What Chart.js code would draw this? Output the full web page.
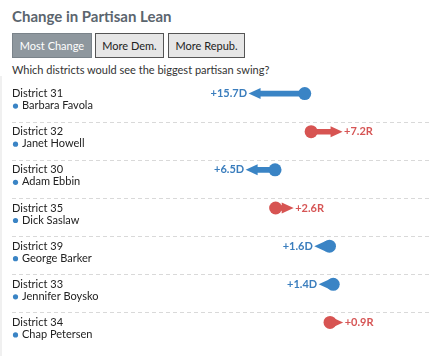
<!DOCTYPE html>
<html>
<head>
<meta charset="utf-8">
<script src="https://cdn.jsdelivr.net/npm/chart.js@4/dist/chart.umd.min.js"></script>
<style>
  html, body { margin:0; padding:0; background:#fff; }
  body { width:431px; height:356px; position:relative; overflow:hidden; font-family:Lato, "Open Sans", sans-serif; }
  #title { position:absolute; left:12px; top:7px; font-weight:bold; font-size:15px; color:#5b656e; white-space:nowrap; }
  .btn { position:absolute; top:33px; height:25px; box-sizing:border-box; border:1px solid #555; font-size:11px; line-height:23px; text-align:center; color:#222; background:#e6e6e6; }
  #b1 { left:12px; width:80px; background:#8e979e; color:#fff; border-color:#7a838a; }
  #b2 { left:95px; width:69px; }
  #b3 { left:168px; width:77px; }
  #sub { position:absolute; left:12px; top:63px; font-size:11px; color:#333; white-space:nowrap; }
  #leftline { position:absolute; left:0; top:76px; width:2px; height:280px; background:#f0f0f0; }
  #wrap { position:absolute; left:0; top:68px; width:431px; height:280px; }
</style>
</head>
<body>
<div id="title">Change in Partisan Lean</div>
<div class="btn" id="b1">Most Change</div>
<div class="btn" id="b2">More Dem.</div>
<div class="btn" id="b3">More Repub.</div>
<div id="sub">Which districts would see the biggest partisan swing?</div>
<div id="leftline"></div>
<div id="wrap"><canvas id="c" width="431" height="280"></canvas></div>
<script>
// ---- data (lean in points: negative = Dem side, positive = Rep side) ----
const districts = ["District 31", "District 32", "District 30", "District 35", "District 39", "District 33", "District 34"];
const senators  = ["Barbara Favola", "Janet Howell", "Adam Ebbin", "Dick Saslaw", "George Barker", "Jennifer Boysko", "Chap Petersen"];
const leanBefore = [2.5, 4.7, -7.7, -7.5, 11.0, 12.3, 11.2];
const leanAfter  = [-13.2, 11.9, -14.2, -4.9, 9.4, 10.9, 12.1];
const shiftLabels = ["+15.7D", "+7.2R", "+6.5D", "+2.6R", "+1.6D", "+1.4D", "+0.9R"];

const BLUE = "#3a84c5", RED = "#d75452";
const BLUE_TXT = "#3a7dbd", RED_TXT = "#d65555";
const colorFor = i => leanAfter[i] < leanBefore[i] ? BLUE : RED;
const colors = districts.map((d, i) => colorFor(i));

const decor = {
  id: "decor",
  beforeDatasetsDraw(chart) {
    const ctx = chart.ctx, y = chart.scales.y;
    ctx.save();
    districts.forEach((d, i) => {
      const yc = y.getPixelForValue(i);
      if (i > 0) {
        ctx.strokeStyle = "#d9d9d9";
        ctx.lineWidth = 1;
        ctx.setLineDash([4, 3]);
        ctx.beginPath();
        ctx.moveTo(12, Math.round(yc - 10) + 0.5);
        ctx.lineTo(431, Math.round(yc - 10) + 0.5);
        ctx.stroke();
        ctx.setLineDash([]);
      }
      ctx.fillStyle = "#222";
      ctx.font = "11px Lato";
      ctx.textAlign = "left";
      ctx.textBaseline = "middle";
      ctx.fillText(d, 12, yc);
      ctx.fillText(senators[i], 22, yc + 12);
      ctx.fillStyle = BLUE;
      ctx.beginPath();
      ctx.arc(15.5, yc + 12.5, 2.6, 0, Math.PI * 2);
      ctx.fill();
    });
    ctx.restore();
  },
  afterDatasetsDraw(chart) {
    const ctx = chart.ctx, x = chart.scales.x, y = chart.scales.y;
    ctx.save();
    districts.forEach((d, i) => {
      const yc = y.getPixelForValue(i);
      const pa = x.getPixelForValue(leanAfter[i]);
      const dir = leanAfter[i] < leanBefore[i] ? -1 : 1;
      const tip = pa + dir * 10.5;
      const base = pa - dir * 1.5;
      ctx.fillStyle = colors[i];
      ctx.beginPath();
      ctx.moveTo(tip, yc);
      ctx.lineTo(base, yc - 5.5);
      ctx.lineTo(base, yc + 5.5);
      ctx.closePath();
      ctx.fill();
      ctx.font = "bold 11px Lato";
      ctx.textBaseline = "middle";
      if (dir < 0) {
        ctx.fillStyle = BLUE_TXT;
        ctx.textAlign = "right";
        ctx.fillText(shiftLabels[i], tip - 1.5, yc);
      } else {
        ctx.fillStyle = RED_TXT;
        ctx.textAlign = "left";
        ctx.fillText(shiftLabels[i], tip + 1.5, yc);
      }
    });
    ctx.restore();
  }
};

new Chart(document.getElementById("c"), {
  type: "bar",
  data: {
    labels: districts,
    datasets: [
      {
        type: "line",
        indexAxis: "y",
        data: leanBefore,
        showLine: false,
        pointRadius: 6.5,
        pointHoverRadius: 6.5,
        pointBackgroundColor: colors,
        pointBorderWidth: 0,
        order: 0
      },
      {
        type: "bar",
        indexAxis: "y",
        data: leanBefore.map((b, i) => [b, leanAfter[i]]),
        backgroundColor: colors,
        borderWidth: 0,
        borderSkipped: false,
        barThickness: 5,
        order: 1
      }
    ]
  },
  options: {
    indexAxis: "y",
    responsive: false,
    animation: false,
    devicePixelRatio: 1,
    layout: { padding: 0 },
    plugins: { legend: { display: false }, tooltip: { enabled: false } },
    scales: {
      x: { type: "linear", min: -100, max: 43.6667, display: false, grid: { display: false } },
      y: { type: "category", offset: true, display: false, grid: { display: false } }
    }
  },
  plugins: [decor]
});
</script>
</body>
</html>
